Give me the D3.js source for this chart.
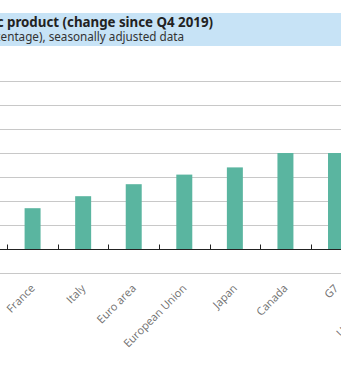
<!DOCTYPE html>
<html>
<head>
<meta charset="utf-8">
<script src="https://cdn.jsdelivr.net/npm/d3@7"></script>
<style>
  html, body { margin: 0; padding: 0; background: #fff; }
  svg { display: block; }
</style>
</head>
<body>
<svg id="chart" width="341" height="370"></svg>
<script>
// ---- data ----
const categories = ["France", "Italy", "Euro area", "European Union", "Japan", "Canada", "G7", "United States"];
const values = [1.7, 2.2, 2.7, 3.1, 3.4, 4.0, 4.0, 6.1];
const yTicks = [-1, 0, 1, 2, 3, 4, 5, 6, 7];
const titleText = "Gross domestic product (change since Q4 2019)";
const subtitleText = "(percentage), seasonally adjusted data";

const svg = d3.select("#chart");
const W = 341, H = 370;

// title band
svg.append("rect").attr("x", 0).attr("y", 13).attr("width", W).attr("height", 33)
  .attr("fill", "#c7e3f6");
svg.append("text").attr("x", 213).attr("y", 26.5).attr("text-anchor", "end")
  .attr("font-family", "'Noto Sans', sans-serif").attr("font-weight", "bold")
  .attr("font-size", 13.3).attr("fill", "#222").text(titleText);
svg.append("text").attr("x", 184).attr("y", 41).attr("text-anchor", "end")
  .attr("font-family", "'Noto Sans', sans-serif")
  .attr("font-size", 11.7).attr("fill", "#333").text(subtitleText);

// scales
const step = 50.57;
const x0 = 7.3;
const x = d3.scaleBand().domain(categories)
  .range([x0, x0 + step * categories.length])
  .paddingInner(0.684).paddingOuter(0.342);
const y = d3.scaleLinear().domain([-1, 7]).range([273, 81]);

// gridlines
svg.append("g").selectAll("line").data(yTicks).join("line")
  .attr("x1", 0).attr("x2", W)
  .attr("y1", d => Math.round(y(d)) + 0.5).attr("y2", d => Math.round(y(d)) + 0.5)
  .attr("stroke", "#c8c8c8").attr("stroke-width", 1);

// bars
svg.append("g").selectAll("rect").data(categories).join("rect")
  .attr("x", d => x(d))
  .attr("width", x.bandwidth())
  .attr("y", (d, i) => y(Math.max(0, values[i])))
  .attr("height", (d, i) => Math.abs(y(values[i]) - y(0)))
  .attr("fill", "#5ab5a0");

// zero axis line
const y0 = Math.round(y(0)) + 0.5;
svg.append("line").attr("x1", 0).attr("x2", W).attr("y1", y0).attr("y2", y0)
  .attr("stroke", "#222").attr("stroke-width", 1);

// ticks at band boundaries
const bounds = categories.map(d => x(d) + x.bandwidth() / 2 - x.step() / 2);
svg.append("g").selectAll("line").data(bounds).join("line")
  .attr("x1", d => Math.round(d) + 0.5).attr("x2", d => Math.round(d) + 0.5)
  .attr("y1", y0 - 5).attr("y2", y0)
  .attr("stroke", "#222").attr("stroke-width", 1);

// category labels
svg.append("g").selectAll("text").data(categories).join("text")
  .attr("transform", d => `translate(${x(d) + x.bandwidth() / 2 + 3},${289}) rotate(-45)`)
  .attr("text-anchor", "end")
  .attr("font-family", "'Open Sans', sans-serif")
  .attr("font-size", 11).attr("fill", "#707070")
  .text(d => d);
</script>
</body>
</html>
